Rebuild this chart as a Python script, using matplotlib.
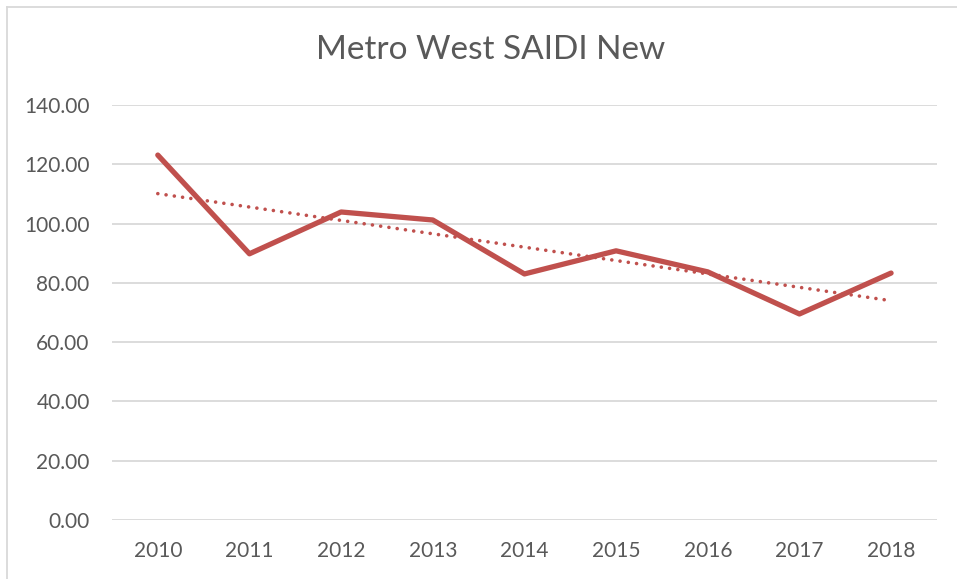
import numpy as np
import matplotlib
matplotlib.use("Agg")
import matplotlib.pyplot as plt
from matplotlib.lines import Line2D

years = ["2010", "2011", "2012", "2013", "2014", "2015", "2016", "2017", "2018"]
saidi = [123.1, 89.8, 103.9, 101.2, 83.0, 90.8, 83.7, 69.5, 83.3]
yticks = [0, 20, 40, 60, 80, 100, 120, 140]
title = "Metro West SAIDI New"

plt.rcParams['font.family'] = ['Lato', 'DejaVu Sans']
text_col = "#595959"
red = "#C0504D"

fig = plt.figure(figsize=(9.57, 5.79), dpi=100)
ax = fig.add_axes([0.117, 0.1019, 0.862, 0.7168])

x = np.arange(len(years))
ax.plot(x, saidi, color=red, linewidth=3.8, solid_capstyle='round', solid_joinstyle='round', zorder=3)
coef = np.polyfit(x, saidi, 1)
trend = np.polyval(coef, x)
ax.plot(x, trend, color=red, linewidth=2.6, linestyle=(0, (0.01, 2.3)), dash_capstyle='round', zorder=2)

ax.set_xlim(-0.5, len(years) - 0.5)
ax.set_ylim(0, 140)
ax.set_yticks(yticks)
ax.set_yticklabels([f"{v:.2f}" for v in yticks])
ax.set_xticks(x)
ax.set_xticklabels(years)
ax.yaxis.grid(True, color="#D9D9D9", linewidth=1.3)
ax.set_axisbelow(True)
for s in ax.spines.values():
    s.set_visible(False)
ax.tick_params(axis='both', length=0, labelsize=15, colors=text_col)
ax.tick_params(axis='y', pad=16)
ax.tick_params(axis='x', pad=15)

fig.text(0.5 + 12 / 957, 1 - 50 / 579, title, ha='center', va='center', fontsize=24, color=text_col)

# chart border (top and left visible)
fig.add_artist(Line2D([7 / 957, 7 / 957], [0, 1 - 7 / 579], transform=fig.transFigure, color="#D9D9D9", linewidth=1.3))
fig.add_artist(Line2D([7 / 957, 1], [1 - 7 / 579, 1 - 7 / 579], transform=fig.transFigure, color="#D9D9D9", linewidth=1.3))

fig.savefig("out.png", dpi=100)
